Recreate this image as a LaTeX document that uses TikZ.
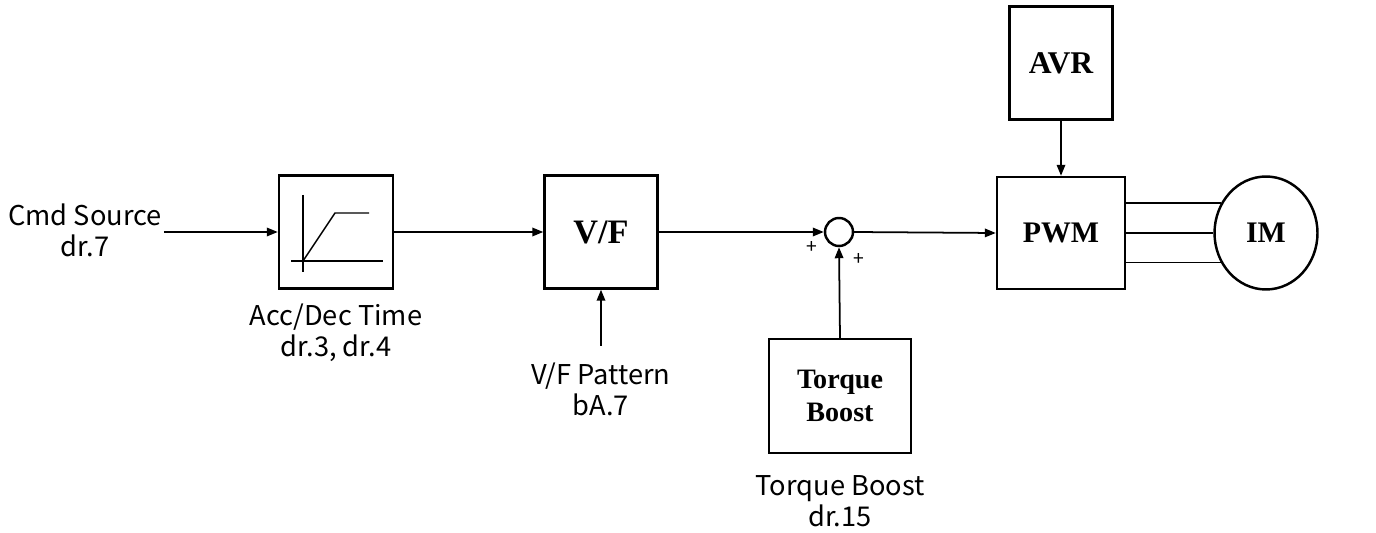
\documentclass[tikz,border=0pt]{standalone}
\usepackage{fontspec}
\setmainfont{Liberation Serif}
\newfontfamily\labelfont{Noto Sans CJK KR}
\usetikzlibrary{arrows.meta,shapes.geometric}

\begin{document}
\begin{tikzpicture}[x=0.02cm,y=-0.02cm]
  % Parameters
  \def\mainy{232}
  \def\sumr{0.56cm}

  % Styles for blocks, labels and connectors
  \tikzset{
    block/.style={draw, line width=1.4pt, inner sep=0pt,
      font=\bfseries\fontsize{17}{18}\selectfont, align=center},
    paramlabel/.style={font=\labelfont\fontsize{15.5}{17.5}\selectfont, align=center, inner sep=1pt},
    signal/.style={line width=1pt, -{Triangle[length=2.2mm,width=1.7mm]}},
    wire/.style={line width=1pt},
    sign/.style={font=\labelfont\fontsize{11}{11}\selectfont, inner sep=0pt}
  }

  \useasboundingbox (0,0) rectangle (1376,533);

  % Blocks
  \node[block, minimum width=2.28cm, minimum height=2.26cm] (acc) at (336,\mainy) {};
  \node[block, minimum width=2.26cm, minimum height=2.26cm, font=\bfseries\fontsize{19.5}{20}\selectfont] (vf) at (601,\mainy) {V/F};
  \node[draw, circle, line width=1.4pt, minimum size=\sumr, inner sep=0pt] (sum) at (839,\mainy) {};
  \node[block, minimum width=2.84cm, minimum height=2.28cm, font=\bfseries\fontsize{16}{19}\selectfont] (tb) at (840,396) {Torque\\Boost};
  \node[block, minimum width=2.56cm, minimum height=2.24cm] (pwm) at (1061,233) {PWM};
  \node[block, minimum width=2.06cm, minimum height=2.26cm, font=\bfseries\fontsize{18}{19}\selectfont] (avr) at (1061,63) {AVR};
  \node[block, ellipse, minimum width=2.06cm, minimum height=2.26cm] (im) at (1266,233) {IM};

  % Ramp inside the acc/dec block
  \begin{scope}[shift={(acc.center)}, line width=0.8pt]
    \draw (-33,-37) -- (-33,40);
    \draw (-45,29) -- (47,29);
    \draw (-33,29) -- (-1,-19) -- (33,-19);
  \end{scope}

  % Parameter labels
  \node[paramlabel] (cmd) at (85,230) {Cmd Source\\dr.7};
  \node[paramlabel] (accl) at (336,333) {Acc/Dec Time\\dr.3, dr.4};
  \node[paramlabel] (vfp) at (601,389) {V/F Pattern\\bA.7};
  \node[paramlabel] (tbl) at (840,501) {Torque Boost\\dr.15};
  \coordinate (vfpin) at (601,346);

  % Signs at the summing point
  \node[sign] (p1) at (812,247) {+};
  \node[sign] (p2) at (859,259) {+};

  % Connectors
  \draw[signal] (cmd.east |- acc.west) -- (acc.west);
  \draw[signal] (acc.east) -- (vf.west);
  \draw[signal] (vf.east) -- (sum.west);
  \draw[signal] (sum.east) -- (pwm.west);
  \draw[signal] (vfpin) -- (vf.south);
  \draw[signal] (tb.north) -- (sum.south);
  \draw[signal] (avr.south) -- (pwm.north);

  % Three phase lines to the motor
  \foreach \a in {146.6,180,213.4} {
    \draw[wire] (pwm.east |- im.\a) -- (im.\a);
  }

\end{tikzpicture}
\end{document}
